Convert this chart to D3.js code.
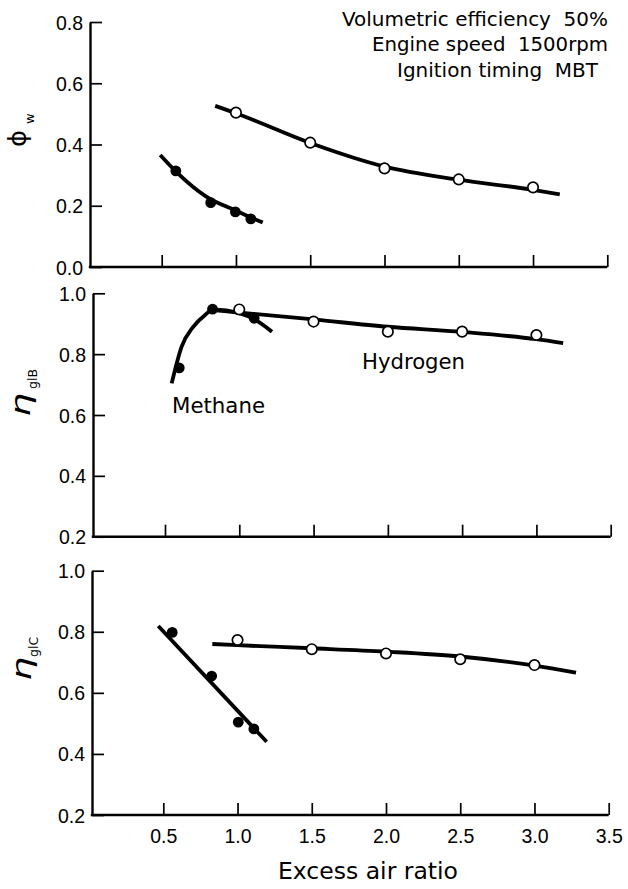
<!DOCTYPE html>
<html>
<head>
<meta charset="utf-8">
<script src="https://cdn.jsdelivr.net/npm/d3@7"></script>
<style>
  html, body { margin: 0; padding: 0; background: #fff; }
  svg { display: block; }
</style>
</head>
<body>
<svg id="chart" width="628" height="889"></svg>
<script>
// ---------------- DATA ----------------
const xTicks = [0.5, 1.0, 1.5, 2.0, 2.5, 3.0, 3.5];
const xTickLabels = ["0.5", "1.0", "1.5", "2.0", "2.5", "3.0", "3.5"];
const phiTicks = [0.0, 0.2, 0.4, 0.6, 0.8];
const phiTickLabels = ["0.0", "0.2", "0.4", "0.6", "0.8"];
const etaTicks = [0.2, 0.4, 0.6, 0.8, 1.0];
const etaTickLabels = ["0.2", "0.4", "0.6", "0.8", "1.0"];

// Panel 1: phi_w
const phiHydrogenPts = [[1.0, 0.504], [1.5, 0.406], [2.0, 0.322], [2.5, 0.286], [3.0, 0.260]];
const phiHydrogenFit = [[0.86, 0.526], [1.0, 0.502], [1.5, 0.405], [2.0, 0.328], [2.5, 0.285], [3.0, 0.252], [3.18, 0.237]];
const phiMethanePts = [[0.595, 0.314], [0.83, 0.210], [0.996, 0.180], [1.10, 0.157]];
const phiMethaneFit = [[0.49, 0.366], [0.6, 0.310], [0.8, 0.230], [1.0, 0.184], [1.18, 0.145]];

// Panel 2: eta_glB
const etaBHydrogenPts = [[1.0, 0.947], [1.5, 0.907], [2.0, 0.874], [2.5, 0.874], [3.0, 0.863]];
const etaBHydrogenFit = [[0.826, 0.945], [1.5, 0.914], [2.0, 0.890], [2.5, 0.873], [3.0, 0.849], [3.18, 0.836]];
const etaBMethanePts = [[0.596, 0.755], [0.82, 0.948], [1.1, 0.918]];
const etaBMethaneFit = [[0.545, 0.704], [0.612, 0.825], [0.69, 0.890], [0.77, 0.929], [0.826, 0.947], [1.0, 0.935], [1.1, 0.915], [1.22, 0.874]];

// Panel 3: eta_glC
const etaCHydrogenPts = [[1.0, 0.773], [1.5, 0.743], [2.0, 0.729], [2.5, 0.710], [3.0, 0.691]];
const etaCHydrogenFit = [[0.83, 0.760], [1.0, 0.756], [1.5, 0.746], [2.0, 0.735], [2.5, 0.719], [3.0, 0.689], [3.28, 0.666]];
const etaCMethanePts = [[0.56, 0.798], [0.826, 0.655], [1.005, 0.504], [1.11, 0.482]];
const etaCMethaneFit = [[0.466, 0.819], [1.196, 0.440]];

const annotations = ["Volumetric efficiency  50%", "Engine speed  1500rpm", "Ignition timing  MBT"];
const xTitle = "Excess air ratio";

// ---------------- LAYOUT ----------------
const svg = d3.select("#chart");
const tickFont = "'Liberation Sans', Arial, sans-serif";
const textFont = "'DejaVu Sans', sans-serif";

const panels = [
  { x05: 161.7, x35: 607.3, axisX: 90, yTop: 22, yBot: 267, domain: [0, 0.8],
    ticks: phiTicks, tickLabels: phiTickLabels, showX: false,
    hFit: phiHydrogenFit, hPts: phiHydrogenPts, mFit: phiMethaneFit, mPts: phiMethanePts,
    label: { main: "\u03D5", sub: "w", bx: 26, y0: 147, mainSize: 24, mainLen: 17, subBx: 34, subY0: 124, subSize: 13, italic: false } },
  { x05: 165.0, x35: 610.7, axisX: 93, yTop: 293.3, yBot: 536.7, domain: [0.2, 1.0],
    ticks: etaTicks, tickLabels: etaTickLabels, showX: false,
    hFit: etaBHydrogenFit, hPts: etaBHydrogenPts, mFit: etaBMethaneFit, mPts: etaBMethanePts,
    label: { main: "\u03B7", sub: "glB", bx: 30, y0: 417, mainSize: 27, mainLen: 24, subBx: 37, subY0: 389, subSize: 12.5, italic: true } },
  { x05: 163.3, x35: 608.7, axisX: 92, yTop: 570.7, yBot: 815, domain: [0.2, 1.0],
    ticks: etaTicks, tickLabels: etaTickLabels, showX: true,
    hFit: etaCHydrogenFit, hPts: etaCHydrogenPts, mFit: etaCMethaneFit, mPts: etaCMethanePts,
    label: { main: "\u03B7", sub: "glC", bx: 31, y0: 681, mainSize: 27, mainLen: 24, subBx: 38, subY0: 657, subSize: 12.5, italic: true } }
];

panels.forEach(p => {
  const x = d3.scaleLinear().domain([0.5, 3.5]).range([p.x05, p.x35]);
  const y = d3.scaleLinear().domain(p.domain).range([p.yBot, p.yTop]);
  const g = svg.append("g");

  // y axis (ticks inward)
  const yAxis = d3.axisLeft(y).tickValues(p.ticks)
    .tickFormat((d, i) => p.tickLabels[i]).tickSize(-12).tickSizeOuter(0).tickPadding(7);
  const ya = g.append("g").attr("transform", `translate(${p.axisX},0)`).call(yAxis);
  ya.select(".domain").attr("stroke", "#000").attr("stroke-width", 2.4);
  ya.selectAll(".tick line").attr("stroke", "#000").attr("stroke-width", 1.7);
  ya.selectAll(".tick text").attr("font-family", tickFont).attr("font-size", 19.5)
    .attr("fill", "#000").attr("dy", "0.36em");

  // x axis line + inward ticks
  g.append("line").attr("x1", p.axisX - 1.2).attr("x2", x(3.5))
    .attr("y1", p.yBot).attr("y2", p.yBot).attr("stroke", "#000").attr("stroke-width", 2.4);
  const xAxis = d3.axisBottom(x).tickValues(xTicks)
    .tickFormat((d, i) => p.showX ? xTickLabels[i] : "").tickSize(-12).tickSizeOuter(0).tickPadding(14);
  const xa = g.append("g").attr("transform", `translate(0,${p.yBot})`).call(xAxis);
  xa.select(".domain").remove();
  xa.selectAll(".tick line").attr("stroke", "#000").attr("stroke-width", 1.7);
  xa.selectAll(".tick text").attr("font-family", tickFont).attr("font-size", 19.5).attr("fill", "#000");

  // fitted curves
  const line = d3.line().x(d => x(d[0])).y(d => y(d[1])).curve(d3.curveMonotoneX);
  [p.hFit, p.mFit].forEach(fit => {
    g.append("path").attr("d", line(fit)).attr("fill", "none")
      .attr("stroke", "#000").attr("stroke-width", 3.8).attr("stroke-linecap", "butt");
  });

  // markers
  g.selectAll(".m").data(p.mPts).join("circle").attr("class", "m")
    .attr("cx", d => x(d[0])).attr("cy", d => y(d[1])).attr("r", 5.4).attr("fill", "#000");
  g.selectAll(".h").data(p.hPts).join("circle").attr("class", "h")
    .attr("cx", d => x(d[0])).attr("cy", d => y(d[1])).attr("r", 5.2)
    .attr("fill", "#fff").attr("stroke", "#000").attr("stroke-width", 1.7);

  // rotated y label
  const L = p.label;
  g.append("text").attr("transform", `translate(${L.bx},${L.y0}) rotate(-90)`)
    .attr("font-family", textFont).attr("font-size", L.mainSize)
    .attr("font-style", L.italic ? "italic" : "normal")
    .attr("textLength", L.mainLen).attr("lengthAdjust", "spacingAndGlyphs")
    .attr("fill", "#000").text(L.main);
  g.append("text").attr("transform", `translate(${L.subBx},${L.subY0}) rotate(-90)`)
    .attr("font-family", textFont).attr("font-size", L.subSize)
    .attr("fill", "#000").text(L.sub);
});

// annotation block
const annLayout = [
  { right: 608, base: 26, len: 266 },
  { right: 608, base: 51, len: 236 },
  { right: 598, base: 77, len: 201 }
];
annotations.forEach((t, i) => {
  const a = annLayout[i];
  svg.append("text").attr("x", a.right).attr("y", a.base).attr("text-anchor", "end")
    .attr("font-family", textFont).attr("font-size", 20)
    .attr("textLength", a.len).attr("lengthAdjust", "spacingAndGlyphs")
    .attr("fill", "#000").attr("xml:space", "preserve").text(t);
});

// series labels
svg.append("text").attr("x", 172).attr("y", 413).attr("font-family", textFont).attr("font-size", 21)
  .attr("textLength", 93).attr("lengthAdjust", "spacingAndGlyphs").attr("fill", "#000").text("Methane");
svg.append("text").attr("x", 362).attr("y", 369).attr("font-family", textFont).attr("font-size", 21)
  .attr("textLength", 103).attr("lengthAdjust", "spacingAndGlyphs").attr("fill", "#000").text("Hydrogen");

// x title
svg.append("text").attr("x", 368).attr("y", 879).attr("text-anchor", "middle")
  .attr("font-family", textFont).attr("font-size", 23)
  .attr("textLength", 180).attr("lengthAdjust", "spacingAndGlyphs").attr("fill", "#000").text(xTitle);
</script>
</body>
</html>
